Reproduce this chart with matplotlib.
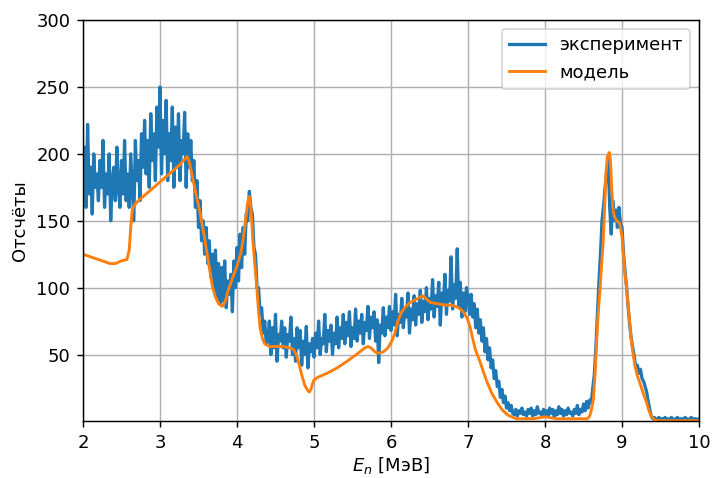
import numpy as np
import matplotlib
matplotlib.use("Agg")
import matplotlib.pyplot as plt

# Measured neutron spectrum, counts per 0.02 MeV bin from 2 to 10 MeV
energy_start = 2.0
energy_stop = 10.0
counts_exp = [
    180, 205, 160, 222, 170, 190, 155, 200, 175, 185,
    165, 195, 175, 210, 160, 185, 170, 200, 150, 180,
    190, 165, 205, 175, 160, 195, 170, 210, 165, 185,
    160, 200, 175, 150, 210, 180, 195, 165, 215, 190,
    225, 185, 210, 175, 230, 195, 215, 180, 235, 205,
    250, 185, 225, 200, 240, 180, 215, 195, 235, 175,
    220, 190, 230, 180, 210, 200, 231, 175, 215, 190,
    210, 180, 195, 160, 180, 145, 165, 135, 150, 125,
    145, 118, 135, 108, 125, 98, 128, 92, 118, 88,
    115, 90, 120, 85, 105, 95, 110, 82, 120, 100,
    130, 105, 140, 115, 145, 125, 155, 150, 172, 160,
    155, 130, 125, 100, 100, 80, 85, 66, 75, 58,
    60, 75, 50, 70, 55, 80, 45, 65, 60, 75,
    55, 70, 48, 65, 60, 78, 50, 62, 45, 70,
    55, 68, 42, 60, 50, 71, 40, 58, 52, 62,
    48, 66, 55, 75, 50, 62, 58, 80, 52, 68,
    60, 72, 50, 66, 58, 78, 55, 70, 62, 80,
    58, 74, 64, 82, 56, 70, 62, 84, 60, 75,
    66, 80, 58, 74, 68, 86, 62, 78, 70, 82,
    60, 76, 44, 72, 66, 85, 64, 78, 70, 86,
    68, 82, 72, 95, 64, 80, 74, 92, 70, 84,
    78, 96, 66, 84, 76, 94, 72, 88, 80, 98,
    74, 90, 82, 100, 76, 92, 84, 106, 78, 94,
    86, 104, 72, 96, 88, 110, 80, 98, 90, 123,
    84, 102, 92, 129, 86, 104, 78, 96, 82, 100,
    92, 80, 95, 78, 88, 70, 84, 66, 76, 60,
    70, 52, 62, 46, 55, 40, 46, 32, 38, 26,
    30, 18, 24, 14, 19, 10, 14, 8, 12, 6,
    5, 9, 4, 8, 6, 10, 5, 7, 4, 9,
    6, 10, 4, 8, 5, 11, 6, 7, 4, 9,
    5, 8, 4, 10, 6, 9, 3, 8, 5, 11,
    6, 9, 4, 8, 5, 10, 6, 7, 4, 9,
    6, 12, 5, 9, 7, 13, 8, 15, 10, 16,
    14, 25, 35, 55, 80, 104, 125, 150, 161, 175,
    185, 196, 160, 140, 165, 150, 158, 145, 160, 148,
    145, 125, 112, 100, 85, 72, 62, 55, 48, 40,
    42, 36, 39, 32, 30, 26, 22, 15, 9, 4,
    2, 3, 1, 2, 3, 1, 2, 2, 3, 1,
    2, 1, 3, 2, 1, 2, 3, 1, 2, 2,
    1, 3, 2, 1, 2, 3, 1, 2, 2, 1,
    2,
]
energy_exp = np.linspace(energy_start, energy_stop, len(counts_exp))

# Simulated response
energy_model = [
    2.00, 2.10, 2.20, 2.30, 2.35, 2.42, 2.50, 2.57, 2.60, 2.62, 2.64, 2.67,
    2.72, 2.80, 2.90, 3.00, 3.10, 3.20, 3.26, 3.32, 3.35, 3.38, 3.42, 3.46,
    3.52, 3.57, 3.61, 3.65, 3.68, 3.72, 3.76, 3.81, 3.85, 3.88, 3.94, 4.00,
    4.05, 4.08, 4.11, 4.14, 4.16, 4.18, 4.21, 4.24, 4.26, 4.28, 4.30, 4.33,
    4.36, 4.42, 4.50, 4.60, 4.68, 4.73, 4.77, 4.80, 4.84, 4.88, 4.92, 4.94,
    4.96, 4.98, 5.00, 5.05, 5.17, 5.30, 5.43, 5.55, 5.66, 5.70, 5.74, 5.79,
    5.84, 5.90, 5.96, 6.01, 6.05, 6.09, 6.13, 6.18, 6.25, 6.32, 6.38, 6.41,
    6.45, 6.51, 6.60, 6.70, 6.77, 6.84, 6.90, 6.95, 6.99, 7.03, 7.06, 7.10,
    7.16, 7.20, 7.25, 7.31, 7.38, 7.44, 7.51, 7.58, 7.64, 7.75, 7.85, 7.95,
    8.00, 8.05, 8.15, 8.30, 8.45, 8.55, 8.58, 8.60, 8.627, 8.65, 8.671, 8.69,
    8.714, 8.735, 8.757, 8.775, 8.79, 8.81, 8.835, 8.85, 8.865, 8.88, 8.90, 8.93,
    8.97, 9.00, 9.03, 9.06, 9.09, 9.12, 9.15, 9.17, 9.20, 9.23, 9.27, 9.32,
    9.35, 9.38, 9.42, 9.50, 10.00,
]
counts_model = [
    125, 123, 121, 119, 118, 118, 120, 121, 128, 145, 158, 162,
    165, 169, 174, 179, 184, 189, 192, 196, 198, 194, 183, 172,
    156, 140, 126, 112, 101, 93, 88, 86, 90, 97, 107, 116,
    126, 136, 150, 164, 168, 160, 132, 112, 98, 82, 70, 62,
    58, 56, 56, 56, 55, 54, 50, 44, 35, 27, 23, 22,
    24, 28, 31, 33, 36, 40, 45, 50, 55, 56, 55, 52,
    51, 52, 55, 60, 66, 75, 81, 85, 89, 91, 93, 94,
    92, 89, 88, 87, 87, 86, 84, 81, 77, 70, 62, 53,
    44, 37, 29, 21, 14, 9, 5, 3, 2, 2, 2, 3,
    3.5, 3, 2, 2, 2, 2, 4, 8, 16, 35, 61, 80,
    99, 117, 136, 160, 185, 198, 201, 195, 175, 160, 153, 150,
    148, 138, 115, 99, 80, 61, 48, 41, 34, 29, 22, 14,
    8, 4, 1, 0.5, 0.5,
]

x_ticks = [2, 3, 4, 5, 6, 7, 8, 9, 10]
y_ticks = [50, 100, 150, 200, 250, 300]

dpi = 130
fig = plt.figure(figsize=(713 / dpi, 478 / dpi), dpi=dpi)
ax = fig.add_axes([0.1164, 0.1192, 0.8640, 0.8388])

ax.plot(energy_exp, counts_exp, color="#1f77b4", lw=1.8, label="эксперимент")
ax.plot(energy_model, counts_model, color="#ff7f0e", lw=1.6, label="модель")

ax.set_xlim(2, 10)
ax.set_ylim(0.3, 300)
ax.set_xticks(x_ticks)
ax.set_yticks(y_ticks)
ax.grid(True, color="#b0b0b0", lw=0.8)
ax.set_xlabel("$E_n$ [МэВ]", labelpad=2)
ax.set_ylabel("Отсчёты")
ax.legend(loc="upper right")

fig.savefig("out.png", dpi=dpi)
